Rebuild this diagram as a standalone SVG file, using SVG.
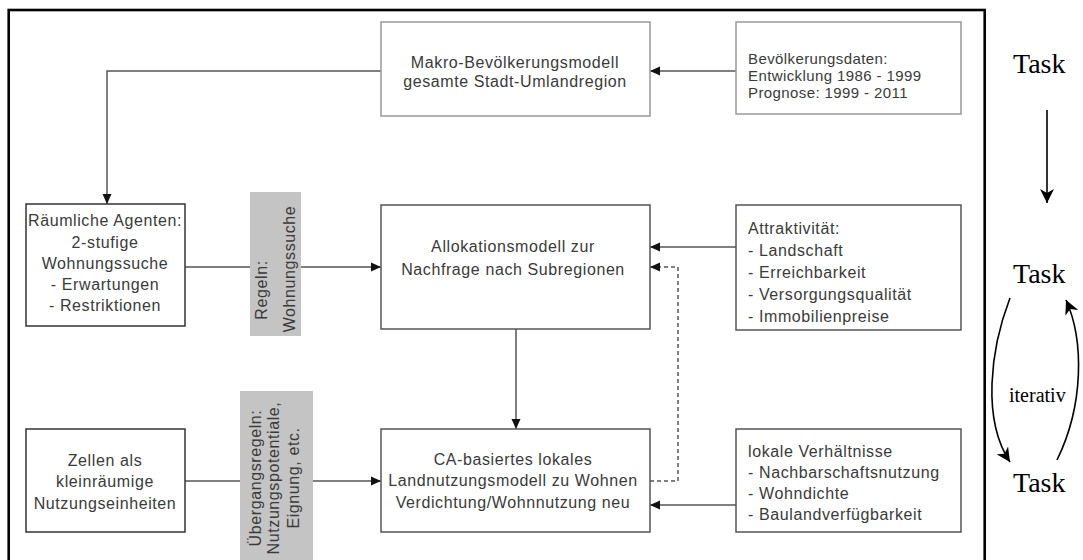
<svg xmlns="http://www.w3.org/2000/svg" width="1083" height="560" viewBox="0 0 1083 560">
<style>
.box{fill:#fff;stroke:#555;stroke-width:1.5}
.lt{stroke:#999}
.dk{stroke:#333}
.t{font-family:"Liberation Sans",Arial,sans-serif;font-size:16px;fill:#3a3a3a;letter-spacing:0.6px}
.s{font-size:15px;letter-spacing:0.4px}
.m{text-anchor:middle}
.conn{stroke:#555;stroke-width:1.5;fill:none}
.grey{fill:#c4c4c4}
.task{font-family:"Liberation Serif","Times New Roman",serif;font-size:28px;fill:#000}
.tarr{stroke:#000;stroke-width:1.6;fill:none}
</style>
<defs>
<marker id="ah" markerUnits="userSpaceOnUse" markerWidth="10" markerHeight="10" refX="10" refY="5" orient="auto">
<path d="M0,0.5 L10,5 L0,9.5 z" fill="#111"/>
</marker>
<marker id="th" markerUnits="userSpaceOnUse" markerWidth="16" markerHeight="14" refX="14" refY="7" orient="auto">
<path d="M0,0 L14,7 L0,14 L4,7 z" fill="#000"/>
</marker>
</defs>
<rect x="8.7" y="10" width="976" height="552" fill="none" stroke="#000" stroke-width="2.6"/>

<g id="connectors">
<polyline class="conn" points="736,71 650,71" marker-end="url(#ah)"/>
<polyline class="conn" points="381,71 107,71 107,204" marker-end="url(#ah)"/>
<line class="conn" x1="185" y1="267" x2="250" y2="267"/>
<polyline class="conn" points="301,267 381,267" marker-end="url(#ah)"/>
<polyline class="conn" points="736,247 650,247" marker-end="url(#ah)"/>
<polyline class="conn" points="650,481 678,481 678,267 650,267" stroke-dasharray="4,3" marker-end="url(#ah)"/>
<polyline class="conn" points="516,329 516,429" marker-end="url(#ah)"/>
<line class="conn" x1="185" y1="481" x2="240" y2="481"/>
<polyline class="conn" points="313,481 381,481" marker-end="url(#ah)"/>
<polyline class="conn" points="736,505 650,505" marker-end="url(#ah)"/>
<line class="tarr" x1="1047" y1="110" x2="1047" y2="203" marker-end="url(#th)"/>
<path class="tarr" d="M1010,298 C990,350 982,420 1010,462" marker-end="url(#th)"/>
<path class="tarr" d="M1057,460 C1084,405 1084,340 1066,300" marker-end="url(#th)"/>
</g>

<g id="makro">
<rect class="box lt" x="381" y="22" width="269" height="94"/>
<text class="t m" x="515" y="68">Makro-Bevölkerungsmodell</text>
<text class="t m" x="515" y="87">gesamte Stadt-Umlandregion</text>
</g>
<g id="bevdaten">
<rect class="box lt" x="736" y="22" width="225" height="92"/>
<text class="t s" x="748" y="64">Bevölkerungsdaten:</text>
<text class="t s" x="748" y="81">Entwicklung 1986 - 1999</text>
<text class="t s" x="748" y="98">Prognose: 1999 - 2011</text>
</g>
<g id="agenten">
<rect class="box dk" x="26" y="204" width="159" height="122"/>
<text class="t m" x="105" y="226">Räumliche Agenten:</text>
<text class="t m" x="105" y="248">2-stufige</text>
<text class="t m" x="105" y="269">Wohnungssuche</text>
<text class="t m" x="105" y="290">- Erwartungen</text>
<text class="t m" x="105" y="311">- Restriktionen</text>
</g>
<g id="regeln">
<rect class="grey" x="250" y="192" width="51" height="144"/>
<text class="t m" transform="translate(267,290) rotate(-90)">Regeln:</text>
<text class="t m" transform="translate(295,269) rotate(-90)">Wohnungssuche</text>
</g>
<g id="allokation">
<rect class="box" x="381" y="205" width="269" height="124"/>
<text class="t m" x="513" y="252">Allokationsmodell zur</text>
<text class="t m" x="513" y="275">Nachfrage nach Subregionen</text>
</g>
<g id="attraktivitaet">
<rect class="box" x="736" y="205" width="225" height="125"/>
<text class="t" x="748" y="234">Attraktivität:</text>
<text class="t" x="748" y="256">- Landschaft</text>
<text class="t" x="748" y="278">- Erreichbarkeit</text>
<text class="t" x="748" y="300">- Versorgungsqualität</text>
<text class="t" x="748" y="322">- Immobilienpreise</text>
</g>
<g id="zellen">
<rect class="box dk" x="26" y="429" width="159" height="103"/>
<text class="t m" x="105" y="466">Zellen als</text>
<text class="t m" x="105" y="487">kleinräumige</text>
<text class="t m" x="105" y="509">Nutzungseinheiten</text>
</g>
<g id="uebergang">
<rect class="grey" x="240" y="391" width="73" height="175"/>
<text class="t m" transform="translate(261,478) rotate(-90)">Übergangsregeln:</text>
<text class="t m" transform="translate(279,478) rotate(-90)">Nutzungspotentiale,</text>
<text class="t m" transform="translate(299,478) rotate(-90)">Eignung, etc.</text>
</g>
<g id="ca">
<rect class="box" x="381" y="429" width="269" height="103"/>
<text class="t m" x="513" y="465">CA-basiertes lokales</text>
<text class="t m" x="513" y="486">Landnutzungsmodell zu Wohnen</text>
<text class="t m" x="513" y="508">Verdichtung/Wohnnutzung neu</text>
</g>
<g id="lokal">
<rect class="box" x="736" y="429" width="225" height="103"/>
<text class="t" x="748" y="457">lokale Verhältnisse</text>
<text class="t" x="748" y="478">- Nachbarschaftsnutzung</text>
<text class="t" x="748" y="499">- Wohndichte</text>
<text class="t" x="748" y="520">- Baulandverfügbarkeit</text>
</g>
<g id="task1"><text class="task" x="1013" y="73">Task</text></g>
<g id="task2"><text class="task" x="1013" y="283">Task</text></g>
<g id="task3"><text class="task" x="1013" y="492">Task</text></g>
<g id="iterativ"><text class="task" style="font-size:20px" x="1009" y="402">iterativ</text></g>
</svg>
